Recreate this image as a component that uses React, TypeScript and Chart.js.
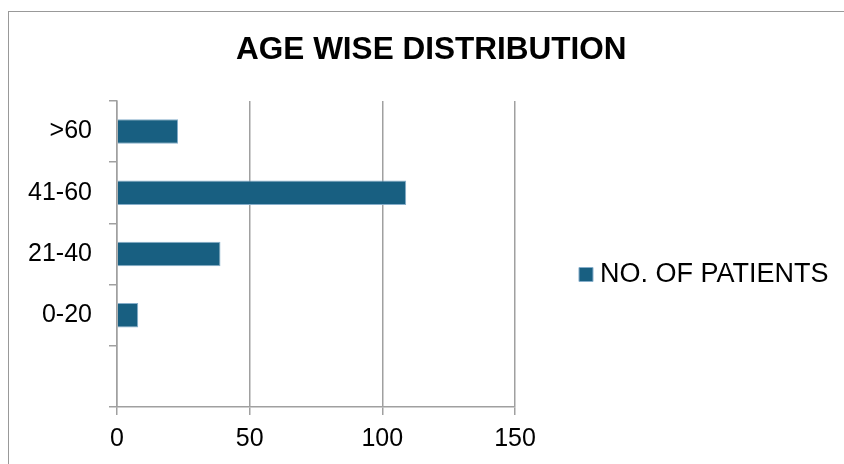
import React, { useEffect, useRef } from 'react';
import { Chart, registerables } from 'chart.js';

Chart.register(...registerables);

const titleText = 'AGE WISE DISTRIBUTION';
const seriesLabel = 'NO. OF PATIENTS';
const categories = ['>60', '41-60', '21-40', '0-20', ''];
const patients = [23, 109, 39, 8, null];
const xTickValues = [0, 50, 100, 150];

export default function App() {
  const ref = useRef<HTMLCanvasElement>(null);

  useEffect(() => {
    const FONT = "'Liberation Sans', Arial, sans-serif";
    const GRID = '#a0a0a0';
    const chart = new Chart(ref.current as HTMLCanvasElement, {
      type: 'bar',
      data: {
        labels: categories,
        datasets: [
          {
            label: seriesLabel,
            data: patients,
            backgroundColor: '#185F81',
            borderColor: '#86AECA',
            borderWidth: 1,
            barPercentage: 0.4,
            categoryPercentage: 1,
          },
        ],
      },
      options: {
        indexAxis: 'y',
        responsive: false,
        animation: false,
        devicePixelRatio: 1,
        layout: { padding: { left: 24, right: 5.5, top: 0, bottom: 1 } },
        scales: {
          x: {
            min: 0,
            max: 150,
            afterBuildTicks: (s: any) => {
              s.ticks = xTickValues.map((v) => ({ value: v }));
            },
            ticks: {
              font: { family: FONT, size: 25 },
              color: '#000',
              padding: 9,
              maxRotation: 0,
            },
            grid: { color: GRID, lineWidth: 1.5, tickLength: 8, drawTicks: true },
            border: { color: GRID, width: 1.5 },
          },
          y: {
            ticks: {
              font: { family: FONT, size: 25 },
              color: '#000',
              padding: 17,
            },
            grid: {
              drawOnChartArea: false,
              color: GRID,
              lineWidth: 1.5,
              tickLength: 8,
              offset: true,
            },
            border: { color: GRID, width: 1.5 },
            afterFit: (s: any) => {
              s.width = 93;
            },
          },
        },
        plugins: {
          title: {
            display: true,
            text: titleText,
            color: '#000',
            font: { family: FONT, size: 31.5, weight: 'bold', lineHeight: 1.2 },
            padding: { top: 31, bottom: 32.2 },
          },
          legend: {
            position: 'right',
            maxWidth: 400,
            labels: {
              usePointStyle: true,
              pointStyle: 'rect',
              boxWidth: 1,
              boxHeight: 14,
              padding: 70.5,
              color: '#000',
              font: { family: FONT, size: 27 },
            },
            title: {
              display: true,
              text: '',
              padding: { top: 85, bottom: 0 },
              font: { size: 1, lineHeight: 1 },
            },
          },
          tooltip: { enabled: false },
        },
      },
    } as any);
    return () => chart.destroy();
  }, []);

  return (
    <div
      style={{
        position: 'fixed',
        left: 0,
        top: 0,
        width: 844,
        height: 464,
        overflow: 'hidden',
        background: '#fff',
      }}
    >
      <div
        style={{
          position: 'absolute',
          left: 8,
          top: 11,
          width: 900,
          height: 500,
          borderTop: '1px solid #999',
          borderLeft: '1px solid #999',
        }}
      />
      <canvas
        ref={ref}
        width={844}
        height={464}
        style={{ position: 'absolute', left: 0, top: 0, width: 844, height: 464 }}
      />
    </div>
  );
}
